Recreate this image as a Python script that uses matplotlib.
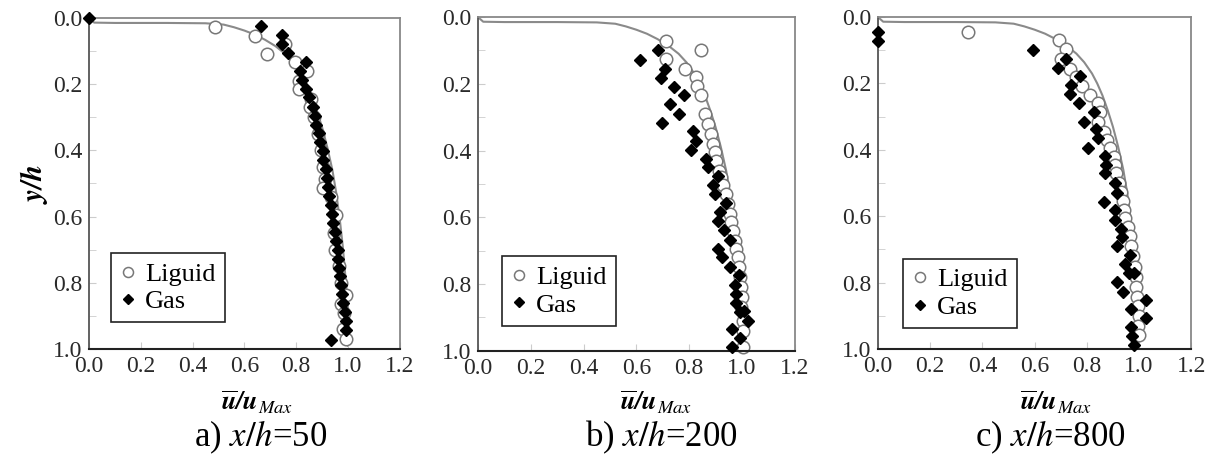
import numpy as np
import matplotlib
matplotlib.use("Agg")
import matplotlib.pyplot as plt
from matplotlib.ticker import MultipleLocator

plt.rcParams['font.family'] = ['Liberation Serif', 'DejaVu Serif']
plt.rcParams['mathtext.fontset'] = 'stix'

# fitted profile (same in all three panels)
curve_x = [0.0, 0.02, 0.10, 0.30, 0.45, 0.52, 0.56, 0.60, 0.64, 0.68, 0.72, 0.76, 0.79,
           0.82, 0.84, 0.86, 0.88, 0.90, 0.92, 0.94, 0.955, 0.97, 0.98, 0.99, 1.0, 1.0]
curve_y = [0.0, 0.014, 0.015, 0.015, 0.016, 0.020, 0.028, 0.038, 0.050, 0.066, 0.085, 0.110, 0.136,
           0.170, 0.200, 0.236, 0.280, 0.330, 0.390, 0.460, 0.530, 0.620, 0.690, 0.780, 0.880, 0.99]

# a) x/h = 50
liq_a_x = [0.486, 0.640, 0.688, 0.756, 0.795, 0.840, 0.810, 0.812, 0.858, 0.853, 0.870, 0.885,
           0.895, 0.905, 0.910, 0.905, 0.935, 0.955, 0.945, 0.950, 0.965, 0.972, 0.994, 0.975,
           0.985, 0.980, 0.994]
liq_a_y = [0.028, 0.055, 0.110, 0.080, 0.134, 0.160, 0.190, 0.216, 0.245, 0.270, 0.300, 0.350,
           0.400, 0.450, 0.485, 0.515, 0.540, 0.594, 0.650, 0.700, 0.750, 0.800, 0.836, 0.865,
           0.890, 0.940, 0.970]
gas_a_x = [0.0, 0.666, 0.747, 0.747, 0.770, 0.837, 0.814, 0.822, 0.838, 0.850, 0.866, 0.872,
           0.878, 0.888, 0.893, 0.902, 0.905, 0.915, 0.918, 0.924, 0.928, 0.934, 0.940, 0.944,
           0.950, 0.955, 0.960, 0.963, 0.967, 0.970, 0.975, 0.978, 0.982, 0.988, 0.992, 0.994,
           0.936]
gas_a_y = [0.0, 0.025, 0.052, 0.080, 0.106, 0.134, 0.160, 0.187, 0.214, 0.240, 0.268, 0.295,
           0.322, 0.349, 0.376, 0.403, 0.430, 0.457, 0.484, 0.511, 0.538, 0.565, 0.592, 0.619,
           0.646, 0.673, 0.700, 0.727, 0.754, 0.781, 0.808, 0.835, 0.862, 0.889, 0.916, 0.943,
           0.972]

# b) x/h = 200
liq_b_x = [0.714, 0.844, 0.714, 0.783, 0.825, 0.831, 0.844, 0.859, 0.871, 0.884, 0.890, 0.897,
           0.903, 0.913, 0.922, 0.928, 0.938, 0.947, 0.954, 0.960, 0.966, 0.973, 0.979, 0.985,
           0.990, 0.994, 0.998, 1.000, 0.998, 1.004, 1.004, 1.004]
liq_b_y = [0.072, 0.098, 0.127, 0.155, 0.180, 0.208, 0.235, 0.290, 0.320, 0.350, 0.380, 0.404,
           0.430, 0.460, 0.480, 0.504, 0.530, 0.560, 0.590, 0.614, 0.640, 0.670, 0.694, 0.720,
           0.750, 0.780, 0.810, 0.840, 0.870, 0.910, 0.940, 0.990]
gas_b_x = [0.615, 0.680, 0.710, 0.692, 0.743, 0.781, 0.726, 0.760, 0.697, 0.815, 0.825, 0.806,
           0.863, 0.871, 0.909, 0.890, 0.897, 0.938, 0.916, 0.909, 0.931, 0.954, 0.909, 0.925,
           0.956, 0.988, 0.975, 0.979, 0.979, 0.992, 1.008, 1.023, 0.962, 0.992, 0.964]
gas_b_y = [0.128, 0.098, 0.155, 0.182, 0.210, 0.235, 0.261, 0.290, 0.317, 0.341, 0.370, 0.397,
           0.424, 0.449, 0.477, 0.504, 0.529, 0.557, 0.584, 0.611, 0.639, 0.667, 0.694, 0.720,
           0.748, 0.773, 0.803, 0.830, 0.856, 0.883, 0.880, 0.911, 0.936, 0.963, 0.988]

# c) x/h = 800
liq_c_x = [0.345, 0.693, 0.721, 0.703, 0.735, 0.760, 0.782, 0.811, 0.843, 0.850, 0.843, 0.865,
           0.878, 0.890, 0.903, 0.910, 0.913, 0.922, 0.931, 0.938, 0.944, 0.948, 0.957, 0.965,
           0.971, 0.976, 0.983, 0.987, 0.989, 0.993, 0.996, 1.000, 0.997, 1.000]
liq_c_y = [0.045, 0.070, 0.095, 0.125, 0.155, 0.182, 0.208, 0.235, 0.260, 0.286, 0.316, 0.346,
           0.371, 0.396, 0.421, 0.446, 0.471, 0.499, 0.526, 0.554, 0.581, 0.606, 0.634, 0.661,
           0.691, 0.721, 0.752, 0.782, 0.812, 0.842, 0.872, 0.902, 0.932, 0.957]
gas_c_x = [0.0, 0.0, 0.593, 0.690, 0.721, 0.740, 0.735, 0.773, 0.769, 0.789, 0.804, 0.827,
           0.837, 0.843, 0.869, 0.875, 0.871, 0.910, 0.914, 0.865, 0.910, 0.907, 0.931, 0.935,
           0.916, 0.967, 0.948, 0.961, 0.980, 0.917, 0.939, 0.971, 1.025, 1.025, 0.971, 0.974,
           0.980]
gas_c_y = [0.045, 0.072, 0.100, 0.152, 0.125, 0.205, 0.233, 0.178, 0.260, 0.316, 0.396, 0.286,
           0.336, 0.364, 0.419, 0.446, 0.471, 0.501, 0.529, 0.556, 0.581, 0.611, 0.639, 0.664,
           0.691, 0.716, 0.745, 0.771, 0.770, 0.799, 0.827, 0.880, 0.852, 0.907, 0.934, 0.962,
           0.987]

panels = [
    ("a", "50", liq_a_x, liq_a_y, gas_a_x, gas_a_y),
    ("b", "200", liq_b_x, liq_b_y, gas_b_x, gas_b_y),
    ("c", "800", liq_c_x, liq_c_y, gas_c_x, gas_c_y),
]
rects = [[0.0733, 0.243, 0.256, 0.718],
         [0.3937, 0.239, 0.261, 0.724],
         [0.7232, 0.243, 0.258, 0.720]]
leg_anchor = [(0.07, 0.08), (0.076, 0.075), (0.08, 0.063)]
cap_x = [0.215, 0.545, 0.865]
lab_x = [0.212, 0.54, 0.87]

fig = plt.figure(figsize=(12.14, 4.61), dpi=100)

for i, (tag, xh, lx, ly, gx, gy) in enumerate(panels):
    ax = fig.add_axes(rects[i])
    ax.plot(curve_x, curve_y, color='#8a8a8a', lw=1.5, zorder=1)
    ax.plot(lx, ly, 'o', ms=9, mfc='white', mec='#777777', mew=1.1,
            ls='none', label='Liguid', zorder=2, clip_on=False)
    ax.plot(gx, gy, 'D', ms=6.5, mfc='black', mec='black', ls='none',
            label='Gas', zorder=3, clip_on=False)
    ax.set_xlim(0, 1.2)
    ax.set_ylim(1.0, 0.0)
    ax.xaxis.set_major_locator(MultipleLocator(0.2))
    ax.yaxis.set_major_locator(MultipleLocator(0.2))
    ax.yaxis.set_minor_locator(MultipleLocator(0.1))
    ax.xaxis.set_major_formatter(plt.FuncFormatter(lambda v, p: f"{v:.1f}"))
    ax.yaxis.set_major_formatter(plt.FuncFormatter(lambda v, p: f"{abs(v):.1f}"))
    ax.tick_params(which='both', direction='in', length=5, color='#cccccc',
                   labelsize=17, labelcolor='#2a2a2a', pad=5)
    ax.tick_params(which='minor', length=5)
    for s in ['top', 'right']:
        ax.spines[s].set_color('#888888')
        ax.spines[s].set_linewidth(1.3)
    ax.spines['left'].set_color('#555555')
    ax.spines['left'].set_linewidth(1.3)
    ax.spines['bottom'].set_color('#222222')
    ax.spines['bottom'].set_linewidth(1.5)
    leg = ax.legend(loc='lower left', bbox_to_anchor=leg_anchor[i], fontsize=19,
                    fancybox=False, framealpha=1, edgecolor='#222222',
                    handlelength=0.6, handletextpad=0.35, borderpad=0.35,
                    labelspacing=0.15, markerscale=0.8, borderaxespad=0)
    leg.get_frame().set_linewidth(1.2)
    if i == 0:
        ax.set_ylabel(r'$\mathbfit{y/h}$', fontsize=21, labelpad=2)
    fig.text(lab_x[i], 0.128, r'$\mathbfit{\overline{u}/u}_{\mathit{Max}}$',
             fontsize=19, ha='center', va='center')
    fig.text(cap_x[i], 0.052, tag + r') $\mathit{x/h}$=' + xh,
             fontsize=25, ha='center', va='center')

fig.savefig('out.png', dpi=100)
